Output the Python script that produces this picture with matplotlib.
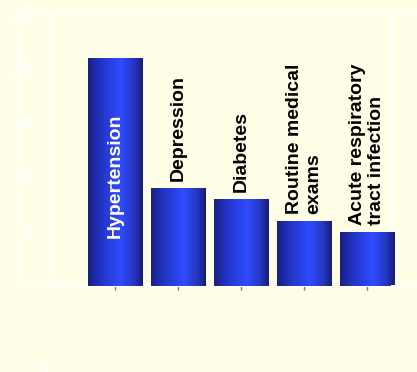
import numpy as np
import matplotlib
matplotlib.use('Agg')
import matplotlib.pyplot as plt
from matplotlib.colors import LinearSegmentedColormap

#datos
categorias = ['Hypertension', 'Depression', 'Diabetes', 'Routine medical\nexams',
              'Acute respiratory\ntract infection']
valores = [21, 9, 8, 6, 5]
ticks_y = [5, 10, 15, 20, 25]

fondo = '#ffffe8'
plt.rcParams['font.family'] = ['Liberation Sans', 'DejaVu Sans']

fig = plt.figure(figsize=(4.17, 3.72), dpi=100, facecolor=fondo)
ax = fig.add_axes([52/417, 1 - 286/372, 340/417, 272/372])
ax.set_facecolor(fondo)

x = np.arange(len(categorias))
barras = ax.bar(x, valores, width=0.86, color='#2a40e0', zorder=2, clip_on=False)

#degradado en las barras
cmap = LinearSegmentedColormap.from_list('azul', [(0, '#172184'), (0.25, '#2435c8'),
                                                  (0.6, '#2f4cff'), (0.85, '#2536c0'),
                                                  (1, '#161c70')])
grad = np.linspace(0, 1, 200).reshape(1, -1)
for b in barras:
    bx, by = b.get_x(), b.get_y()
    im = ax.imshow(grad, cmap=cmap, aspect='auto', zorder=3,
                   extent=[bx, bx + b.get_width(), by, by + b.get_height()])
    im.set_clip_path(b)
    im.set_clip_on(True)
ax.set_xlim(-1.0, 4.4)
ax.set_ylim(0, 25)

#etiquetas
for i, (cat, v) in enumerate(zip(categorias, valores)):
    if i == 0:
        ax.text(i, v / 2 - 0.4, cat, rotation=90, ha='center', va='center',
                color='white', fontsize=14, fontweight='bold', zorder=4)
    else:
        ax.text(i, v + 0.65, cat, rotation=90, ha='center', va='bottom',
                color='black', fontsize=14, fontweight='bold', zorder=4,
                multialignment='left')

ax.set_xticks(x)
ax.set_xticklabels([])
ax.tick_params(axis='x', length=3, color='#777777', width=1)
ax.set_yticks(ticks_y)
ax.set_yticklabels([str(t) for t in ticks_y], color='white', fontsize=13, fontweight='bold')
ax.tick_params(axis='y', length=4, color='white', width=1.5, pad=10)
for s in ax.spines.values():
    s.set_color('white')
    s.set_linewidth(1.5)

#lineas extra y el cero
fig.add_artist(plt.Line2D([20/417, 20/417], [1 - 14/372, 1 - 282/372], color='white', lw=1.2))
fig.add_artist(plt.Line2D([20/417, 52/417], [1 - 282/372, 1 - 282/372], color='white', lw=1.2))
fig.add_artist(plt.Line2D([20/417, 52/417], [1 - 14/372, 1 - 14/372], color='white', lw=1.2))
fig.add_artist(plt.Line2D([392/417, 1], [1 - 14/372, 1 - 14/372], color='white', lw=1.5))
fig.add_artist(plt.Line2D([392/417, 1], [1 - 286/372, 1 - 286/372], color='white', lw=1.5))
fig.text(43/417, 1 - 363/372, '0', color='white', fontsize=13, fontweight='bold',
         ha='center', va='top')

fig.savefig('out.png', dpi=100, facecolor=fondo)
